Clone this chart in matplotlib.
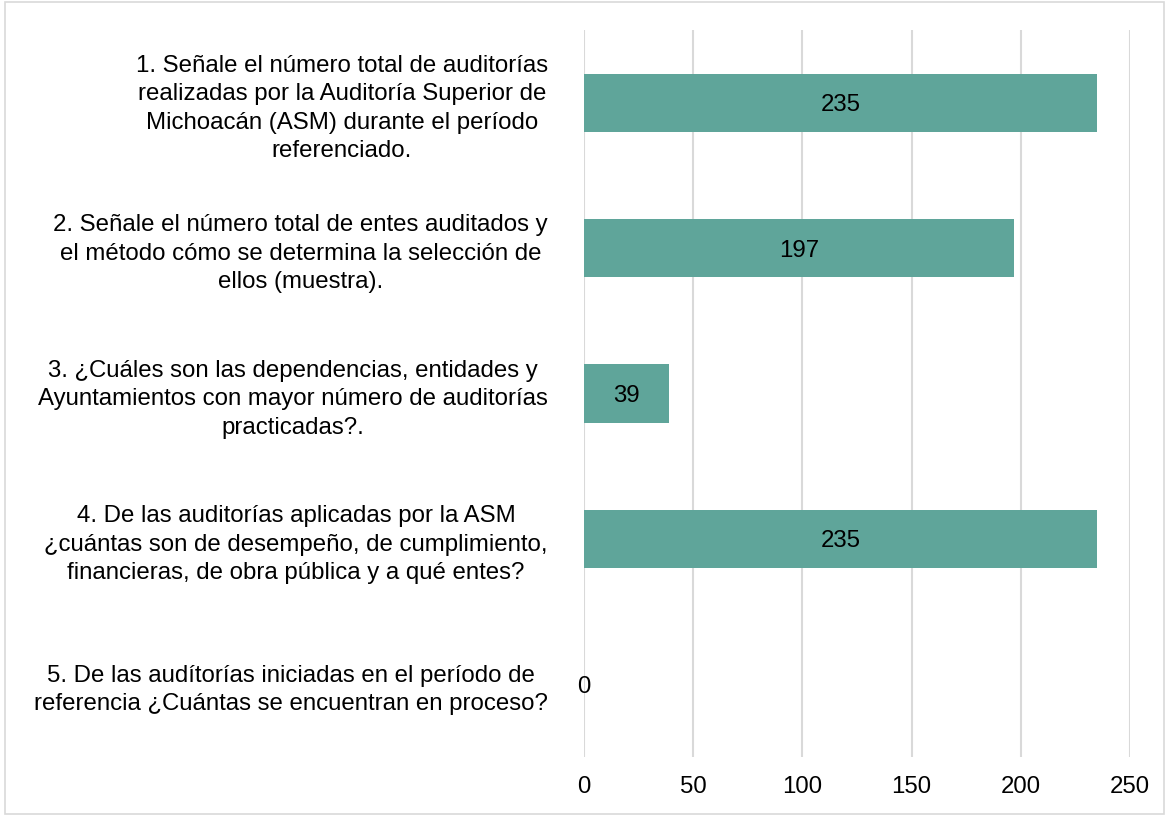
import matplotlib.pyplot as plt
from matplotlib.patches import Rectangle

plt.rcParams['font.family'] = ['Liberation Sans', 'DejaVu Sans']

# Questions (top to bottom) and their values
preguntas = [
    "1. Señale el número total de auditorías\nrealizadas por la Auditoría Superior de\nMichoacán (ASM) durante el período\nreferenciado.",
    "2. Señale el número total de entes auditados y\nel método cómo se determina la selección de\nellos (muestra).",
    "3. ¿Cuáles son las dependencias, entidades y\nAyuntamientos con mayor número de auditorías\npracticadas?.",
    "4. De las auditorías aplicadas por la ASM\n¿cuántas son de desempeño, de cumplimiento,\nfinancieras, de obra pública y a qué entes?",
    "5. De las audítorías iniciadas en el período de\nreferencia ¿Cuántas se encuentran en proceso?",
]
valores = [235, 197, 39, 235, 0]
xticks = [0, 50, 100, 150, 200, 250]

fig = plt.figure(figsize=(11.69, 8.16), dpi=100)
ax = fig.add_axes([0.4996, 0.0723, 0.4670, 0.8909])

pos = list(range(len(preguntas)))
bars = ax.barh(pos, valores, height=0.4, color='#5FA59A', zorder=3)
lbls = ax.bar_label(bars, labels=[str(v) for v in valores], label_type='center',
                    fontsize=17.3, color='black', zorder=4)
for t in lbls:
    t.set_va('center_baseline')

ax.set_ylim(len(preguntas) - 0.5, -0.5)
ax.set_xlim(0, 250)
ax.set_xticks(xticks)
ax.set_xticklabels([str(t) for t in xticks], fontsize=17.3)
ax.set_yticks(pos)
ax.set_yticklabels(preguntas, fontsize=17.3, ha='right', multialignment='center',
                   linespacing=1.38)

ax.tick_params(axis='both', length=0)
ax.tick_params(axis='y', pad=26)
ax.tick_params(axis='x', pad=14)
ax.grid(axis='x', color='#D9D9D9', linewidth=1.5, zorder=0)
for s in ax.spines.values():
    s.set_visible(False)

# light frame around the whole chart
fig.patches.append(Rectangle((0.004, 0.003), 0.992, 0.994, transform=fig.transFigure,
                             fill=False, edgecolor='#D9D9D9', linewidth=1.2))

fig.savefig('out.png', dpi=100)
